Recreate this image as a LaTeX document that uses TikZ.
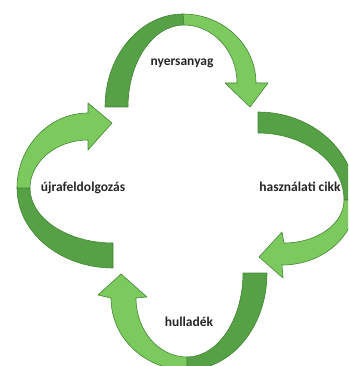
\documentclass[tikz,border=0pt]{standalone}
\usepackage{fontspec}
\setmainfont{Carlito}
\definecolor{leafdark}{RGB}{86,160,70}
\definecolor{leaflight}{RGB}{124,202,94}
\definecolor{leafedge}{RGB}{66,134,52}
\tikzset{back/.style={fill=leafdark,draw=leafedge,line width=0.6pt,line join=round}}
\tikzset{front/.style={fill=leaflight,draw=leafedge,line width=0.6pt,line join=round}}
\tikzset{lbl/.style={font=\bfseries\fontsize{13.5}{15}\selectfont,text=black!85,inner sep=0pt}}

\begin{document}
\begin{tikzpicture}[x=1pt,y=-1pt]
  \useasboundingbox (0,0) rectangle (348,366);
  \clip (0,0) rectangle (348,366);

  % top arrow
  \draw[back] (105,107) .. controls (105,56) and (140,14) .. (183,14)
    -- (184,25) .. controls (153,25) and (128,62) .. (128,107) -- cycle;
  \draw[front] (183,14) .. controls (223,14) and (256,45) .. (256,83)
    -- (268,83) -- (250,107) -- (225,83) -- (237,83)
    .. controls (237,51) and (213,25) .. (184,25) -- cycle;

  % right arrow
  \draw[back] (258,112) .. controls (312,112) and (356,151) .. (356,200)
    -- (344,200) .. controls (344,163) and (305,133) .. (258,133) -- cycle;
  \draw[front] (356,200) .. controls (356,236) and (323,265) .. (282,265)
    -- (283,278) -- (259,257) -- (282,232) -- (284,243)
    .. controls (317,243) and (344,224) .. (344,200) -- cycle;

  % bottom arrow
  \draw[back] (267,273) .. controls (267,327) and (231,370) .. (187,370)
    -- (187,357) .. controls (218,357) and (243,319) .. (243,273) -- cycle;
  \draw[front] (187,370) .. controls (145,370) and (111,338) .. (111,298)
    -- (98,295) -- (121,274) -- (147,297) -- (136,298)
    .. controls (136,331) and (159,357) .. (187,357) -- cycle;

  % left arrow
  \draw[back] (113,268) .. controls (60,268) and (17,232) .. (17,188)
    -- (30,188) .. controls (30,218) and (67,243) .. (113,243) -- cycle;
  \draw[front] (17,188) .. controls (17,147) and (49,113) .. (88,113)
    -- (88,103) -- (112,123) -- (88,150) -- (88,140)
    .. controls (56,140) and (30,162) .. (30,188) -- cycle;

  \node[lbl] (raw) at (182,63) {nyersanyag};
  \node[lbl] (used) at (300,187) {használati cikk};
  \node[lbl] (waste) at (189,322) {hulladék};
  \node[lbl] (recyc) at (83,188) {újrafeldolgozás};
\end{tikzpicture}
\end{document}
